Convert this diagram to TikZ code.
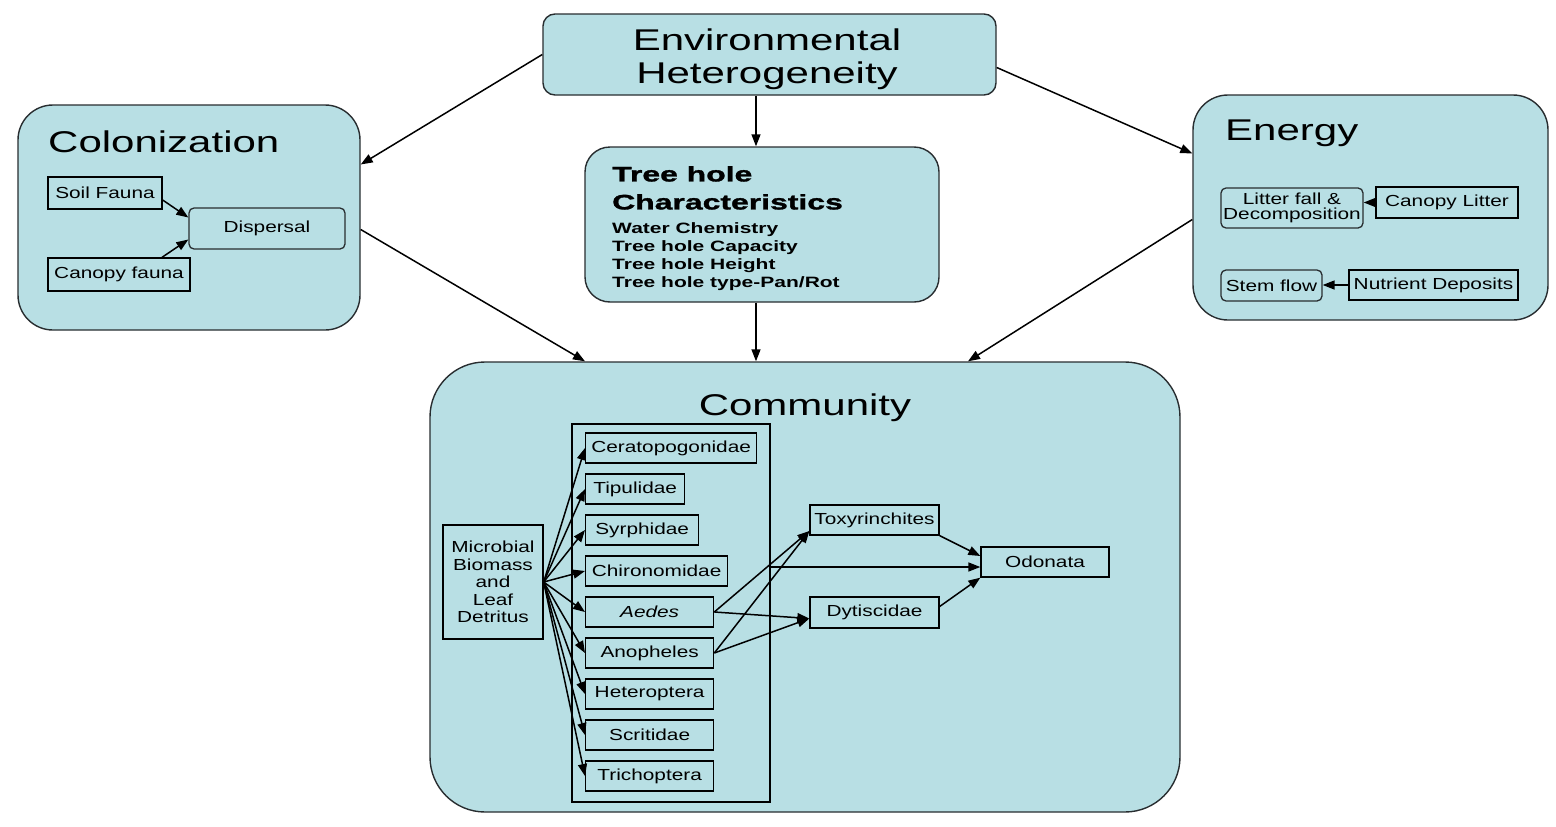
\documentclass[tikz,border=0pt]{standalone}
\usepackage{fontspec}
\setmainfont{Liberation Sans}[FakeStretch=1.3]
\newfontfamily\headfont{Liberation Sans}[FakeStretch=1.4]
\newfontfamily\holefont{Liberation Sans}[FakeStretch=1.52, FakeBold=1.5]
\usetikzlibrary{arrows.meta}

\definecolor{poolblue}{RGB}{184,223,228}
\definecolor{rimgray}{RGB}{40,45,48}

\tikzset{
  panel/.style={draw=rimgray, line width=1.4pt, fill=poolblue, rounded corners=#1, inner sep=0pt},
  tbox/.style={draw=black, line width=1.3pt, inner sep=1pt, align=center, font=\fontsize{16}{17.5}\selectfont},
  taxon/.style={tbox, anchor=west, minimum width=#1, minimum height=30pt},
  arr/.style={-{Triangle[length=12pt,width=9pt]}, line width=1.5pt},
  headline/.style={font=\headfont\fontsize{30}{33}\selectfont, inner sep=0pt}
}

\begin{document}
\begin{tikzpicture}[x=1pt, y=-1pt]
\useasboundingbox (0,0) rectangle (1556,827);
% main panels
\node[panel=12pt, minimum width=453pt, minimum height=81pt] (env) at (769.5,54.5) {};
\node[panel=35pt, minimum width=342pt, minimum height=225pt] (col) at (189,217.5) {};
\node[panel=25pt, minimum width=354pt, minimum height=155pt] (tree) at (762,224.5) {};
\node[panel=35pt, minimum width=355pt, minimum height=225pt] (en) at (1370.5,207.5) {};
\node[panel=55pt, minimum width=750pt, minimum height=450pt] (comm) at (805,587) {};

% titles
\node[headline, align=center] (envtitle) at (767,59) {Environmental\\Heterogeneity};
\node[headline, anchor=base west] (coltitle) at (48,152) {Colonization};
\node[headline, anchor=base west] (entitle) at (1225,140) {Energy};
\node[headline, anchor=base] (commtitle) at (805,415) {Community};

% tree hole text
\node[anchor=north west, align=left, inner sep=0pt, font=\holefont\bfseries\fontsize{21}{28}\selectfont] (holetitle) at (612,166) {Tree hole\\Characteristics};
\node[anchor=north west, align=left, inner sep=0pt, font=\headfont\bfseries\fontsize{15}{18}\selectfont] (holelist) at (612,222) {Water Chemistry\\Tree hole Capacity\\Tree hole Height\\Tree hole type-Pan/Rot};

% colonization
\node[tbox, minimum width=114pt, minimum height=32pt] (soil) at (105,193) {Soil Fauna};
\node[tbox, minimum width=142pt, minimum height=33pt] (canf) at (119,274.5) {Canopy fauna};
\node[tbox, draw=rimgray, rounded corners=5pt, minimum width=156pt, minimum height=41pt] (disp) at (267,228.5) {Dispersal};
\draw[arr] ([yshift=-7pt]soil.east) -- ([yshift=11pt]disp.west);
\draw[arr] ([xshift=43pt]canf.north) -- ([yshift=-11pt]disp.west);

% energy
\node[tbox, draw=rimgray, rounded corners=5pt, minimum width=142pt, minimum height=40pt, font=\fontsize{16}{15}\selectfont] (litt) at (1292,208) {Litter fall \&\\Decomposition};
\node[tbox, minimum width=142pt, minimum height=31pt] (canl) at (1447,202.5) {Canopy Litter};
\node[tbox, draw=rimgray, rounded corners=5pt, minimum width=101pt, minimum height=31pt] (stem) at (1271.5,285.5) {Stem flow};
\node[tbox, minimum width=169pt, minimum height=30pt] (nutr) at (1433.5,285) {Nutrient Deposits};
\draw[arr] (canl.west) -- (canl.west -| litt.east);
\draw[arr] (nutr.west) -- (nutr.west -| stem.east);

% community
\node[tbox, minimum width=198pt, minimum height=378pt] (grp) at (671,613) {};
\node[tbox, minimum width=100pt, minimum height=114pt] (micro) at (493,582) {Microbial\\Biomass\\and\\Leaf\\Detritus};
\foreach \nm/\lbl/\w [count=\i from 0] in {cer/Ceratopogonidae/171, tip/Tipulidae/99, syr/Syrphidae/113, chi/Chironomidae/142, aed/\textit{Aedes}/128, ano/Anopheles/128, het/Heteroptera/128, scr/Scritidae/128, tri/Trichoptera/128}{
  \node[taxon=\w] (\nm) at (585,448+41*\i) {\lbl};
  \draw[arr] (micro.east) -- (\nm.west);
}
\node[tbox, minimum width=129pt, minimum height=30pt] (toxy) at (874.5,520) {Toxyrinchites};
\node[tbox, minimum width=129pt, minimum height=31pt] (dyt) at (874.5,612.5) {Dytiscidae};
\node[tbox, minimum width=128pt, minimum height=30pt] (odo) at (1045,562) {Odonata};
\foreach \src in {aed, ano}{
  \draw[arr] (\src.east) -- ([yshift=-11pt]toxy.west);
  \draw[arr] (\src.east) -- ([yshift=-6pt]dyt.west);
}
\path ([yshift=-5pt]odo.west) coordinate (odoin);
\draw[arr] (odoin -| grp.east) -- (odoin);
\draw[arr] (toxy.south east) -- ([yshift=6pt]odo.west);
\draw[arr] ([yshift=6pt]dyt.east) -- (odo.south west);

% arrows between panels
\draw[arr] (env.west) -- ([yshift=53pt]col.east);
\draw[arr] ([xshift=-13.5pt]env.south) -- ([xshift=-6pt]tree.north);
\draw[arr] ([yshift=-13pt]env.east) -- ([yshift=54pt]en.west);
\draw[arr] ([yshift=-12pt]col.east) -- ([xshift=-220pt]comm.north);
\draw[arr] ([xshift=-6pt]tree.south) -- ([xshift=-49pt]comm.north);
\draw[arr] ([yshift=-12pt]en.west) -- ([xshift=163pt]comm.north);
\end{tikzpicture}
\end{document}
